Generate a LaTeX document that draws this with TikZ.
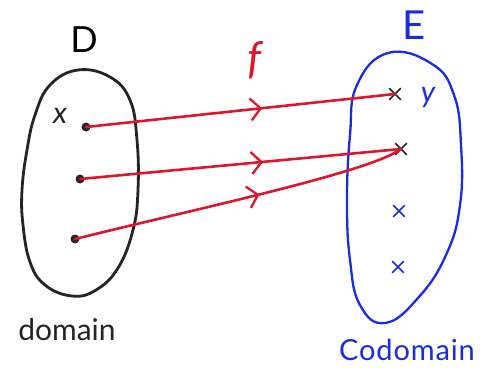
\documentclass[tikz,border=0pt]{standalone}
\usepackage{fontspec}
\setmainfont{Lato}
\usetikzlibrary{shapes.misc,decorations.markings,arrows.meta}
\definecolor{pred}{RGB}{222,22,45}
\definecolor{pblue}{RGB}{25,45,222}
\definecolor{pink}{RGB}{35,35,40}
\begin{document}
\begin{tikzpicture}[x=1pt,y=-1pt,
  blob/.style={line width=2.8pt, line join=round, line cap=round},
  dot/.style={circle, fill=pink, inner sep=0pt, minimum size=9pt},
  xmark/.style={cross out, draw=#1, line width=1.6pt, inner sep=0pt, minimum size=10pt},
  maparrow/.style={draw=pred, line width=2.6pt, line cap=round, postaction={decorate},
    decoration={markings, mark=at position #1 with {\arrow[pred,line width=2.3pt]{Straight Barb[length=10pt,width=22pt]}}}},
  lbl/.style={inner sep=0pt}
]
\useasboundingbox (0,0) rectangle (486,367);

% domain set
\draw[blob, pink] plot[smooth cycle, tension=0.7] coordinates {(78,70) (110,77) (130,100) (137,140) (138,190) (133,230) (118,268) (96,290) (72,296) (45,285) (30,262) (23,225) (22,190) (27,150) (35,115) (50,85)};
% codomain set
\draw[blob, pblue, line width=2.3pt] plot[smooth cycle, tension=0.75] coordinates {(388,53) (432,64) (454,95) (461,145) (460,205) (446,255) (418,298) (385,323) (360,305) (350,260) (347,200) (350,135) (357,85)};

% labels
\node[lbl, font=\fontsize{36}{40}\selectfont] (D) at (84,40) {D};
\node[lbl, font=\fontsize{40}{44}\selectfont, text=pblue] (E) at (414,25) {E};
\node[lbl, font=\fontsize{44}{48}\selectfont\itshape, text=pred] (f) at (255,60) {f};
\node[lbl, font=\fontsize{30}{34}\selectfont\itshape, text=pink] (xl) at (60,116) {x};
\node[lbl, font=\fontsize{30}{34}\selectfont\itshape, text=pblue] (yl) at (428,97) {y};
\node[lbl, font=\fontsize{30}{34}\selectfont, text=pink] (dom) at (67,330) {domain};
\node[lbl, font=\fontsize{29}{34}\selectfont\addfontfeature{LetterSpace=3}, text=pblue, anchor=west] (cod) at (339,350) {Codomain};

% elements
\node[dot] (d1) at (86,127) {};
\node[dot] (d2) at (80,179) {};
\node[dot] (d3) at (75,239) {};
\node[xmark=pink] (e1) at (395,94) {};
\node[xmark=pink] (e2) at (401,149) {};
\node[xmark=pblue] (e3) at (399,211) {};
\node[xmark=pblue] (e4) at (398,267) {};

% mapping
\draw[maparrow=0.57] (d1.center) -- (e1.center);
\draw[maparrow=0.57] (d2.center) -- (e2.center);
\draw[maparrow=0.56] (d3.center) .. controls (200,208) and (370,172) .. (e2.center);
\end{tikzpicture}
\end{document}
